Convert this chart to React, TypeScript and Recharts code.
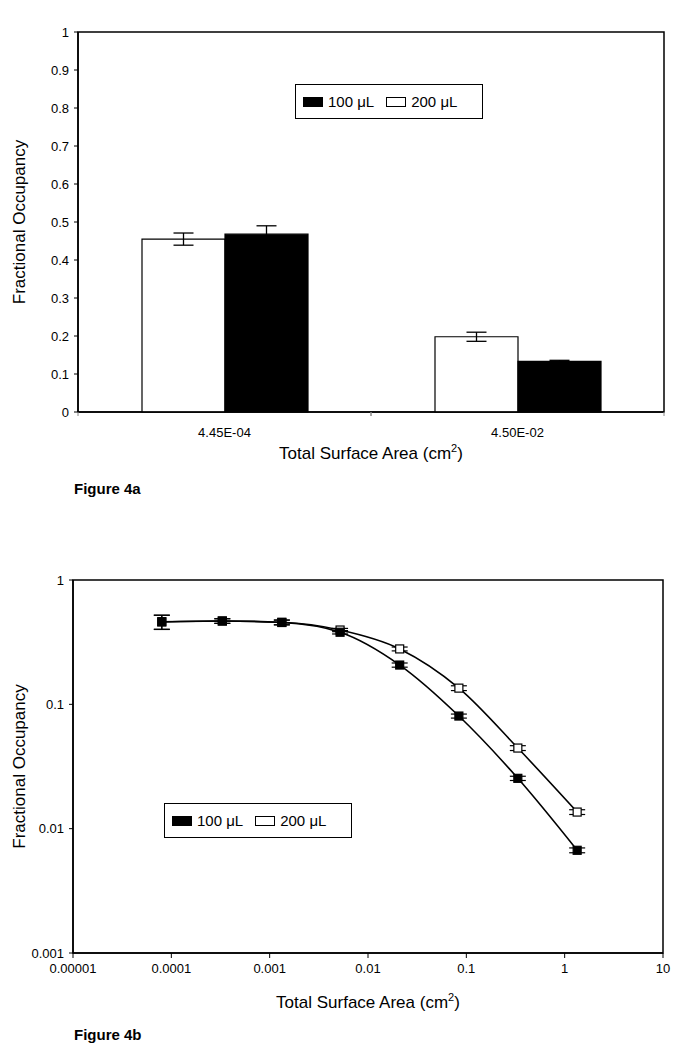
import React from 'react';
import { BarChart, Bar, XAxis, YAxis, ErrorBar, Legend, LineChart, Line, ReferenceArea } from 'recharts';

if (typeof document !== 'undefined') document.body.style.margin = '0';

const FONT = "'Liberation Sans', Arial, Helvetica, sans-serif";

// ---------- Figure 4a data ----------
const categories = ['4.45E-04', '4.50E-02'];
const occ200Bar = [0.455, 0.198];
const err200Bar = [0.016, 0.012];
const occ100Bar = [0.468, 0.133];
const err100Bar = [0.022, 0.003];
const barTicks = [0, 0.1, 0.2, 0.3, 0.4, 0.5, 0.6, 0.7, 0.8, 0.9, 1];
const barTickLabels = ['0', '0.1', '0.2', '0.3', '0.4', '0.5', '0.6', '0.7', '0.8', '0.9', '1'];

// ---------- Figure 4b data ----------
const surfaceArea = [8.0e-5, 3.3e-4, 1.33e-3, 5.2e-3, 2.1e-2, 8.4e-2, 0.334, 1.34];
const occ100 = [0.462, 0.468, 0.455, 0.38, 0.207, 0.0805, 0.0254, 0.0067];
const err100 = [0.06, 0.02, 0.02, 0.012, 0.008, 0.003, 0.001, 0.0003];
const occ200 = [0.46, 0.468, 0.457, 0.396, 0.279, 0.135, 0.0445, 0.0136];
const err200 = [0.06, 0.02, 0.02, 0.012, 0.01, 0.006, 0.002, 0.0006];
const xLogTicks = [1e-5, 1e-4, 1e-3, 1e-2, 0.1, 1, 10];
const xLogTickLabels = ['0.00001', '0.0001', '0.001', '0.01', '0.1', '1', '10'];
const yLogTicks = [0.001, 0.01, 0.1, 1];
const yLogTickLabels = ['0.001', '0.01', '0.1', '1'];

const seriesNames = ['100 \u03BCL', '200 \u03BCL'];
const seriesFills = ['#000', '#fff'];

const barData = categories.map((c, i) => ({
  cat: c,
  v200: occ200Bar[i],
  e200: err200Bar[i],
  v100: occ100Bar[i],
  e100: err100Bar[i],
}));

const lineData = surfaceArea.map((x, i) => ({
  x,
  o100: occ100[i],
  e100: err100[i],
  o200: occ200[i],
  e200: err200[i],
}));

const axisStroke = { stroke: '#000', strokeWidth: 1.5 };

const LegendBox = () => (
  <div
    style={{
      border: '1px solid #000',
      background: '#fff',
      width: 188,
      height: 35,
      boxSizing: 'border-box',
      display: 'flex',
      alignItems: 'center',
      paddingLeft: 7,
      fontFamily: FONT,
      fontSize: 15,
      color: '#000',
    }}
  >
    {seriesNames.map((n, i) => (
      <React.Fragment key={n}>
        <span
          style={{
            display: 'inline-block',
            width: 20,
            height: 10,
            boxSizing: 'border-box',
            background: seriesFills[i],
            border: '1px solid #000',
            marginRight: 5,
            marginLeft: i === 0 ? 0 : 12,
          }}
        />
        <span>{n}</span>
      </React.Fragment>
    ))}
  </div>
);

const xTitle = (dy: number) => (props: any) => {
  const vb = props && props.viewBox;
  if (!vb) return null;
  const cx = vb.x + vb.width / 2;
  return (
    <text x={cx} y={vb.y + dy} textAnchor="middle" fontSize={17} fontFamily={FONT} fill="#000">
      Total Surface Area (cm
      <tspan dy={-7} fontSize={11}>2</tspan>
      <tspan dy={7}>)</tspan>
    </text>
  );
};

const yTitle = (props: any) => {
  const vb = props && props.viewBox;
  if (!vb) return null;
  const cy = vb.y + vb.height / 2;
  const cx = 19;
  return (
    <text
      x={cx}
      y={cy}
      transform={`rotate(-90, ${cx}, ${cy})`}
      textAnchor="middle"
      dominantBaseline="central"
      fontSize={17}
      fontFamily={FONT}
      fill="#000"
    >
      Fractional Occupancy
    </text>
  );
};

const CatTick = (props: any) => {
  const { x, y, payload } = props;
  const off = payload && typeof payload.offset === 'number' ? payload.offset : 0;
  return (
    <g>
      {off > 0 && <line x1={x - off} x2={x - off} y1={y} y2={y + 4} stroke="#888" strokeWidth={1} />}
      {off > 0 && <line x1={x + off} x2={x + off} y1={y} y2={y + 4} stroke="#888" strokeWidth={1} />}
      <text x={x} y={y + 25} textAnchor="middle" fontSize={13} fontFamily={FONT} fill="#000">
        {payload.value}
      </text>
    </g>
  );
};

const squareDot = (fill: string) => (p: any) => {
  const { cx, cy, index } = p;
  if (cx == null || cy == null) return <g key={index} />;
  return <rect key={index} x={cx - 4} y={cy - 4} width={8} height={8} fill={fill} stroke="#000" strokeWidth={1.2} />;
};

const tickStyle = { fontSize: 13, fill: '#000', fontFamily: FONT };

export default function App() {
  return (
    <div style={{ position: 'relative', width: 686, height: 1050, background: '#fff', fontFamily: FONT }}>
      <div style={{ position: 'absolute', left: 0, top: 0 }}>
        <BarChart
          width={686}
          height={470}
          data={barData}
          margin={{ top: 32, right: 22, left: 0, bottom: 0 }}
          barGap={0}
          barSize={83}
        >
          <XAxis
            dataKey="cat"
            height={58}
            tickLine={false}
            tickSize={0}
            tickMargin={0}
            axisLine={axisStroke}
            tick={CatTick}
            interval={0}
            label={xTitle(47)}
          />
          <YAxis
            domain={[0, 1]}
            ticks={barTicks}
            width={78}
            tickSize={4}
            tickMargin={5}
            tick={tickStyle}
            tickLine={{ stroke: '#000' }}
            axisLine={axisStroke}
            tickFormatter={(v: number) => barTickLabels[barTicks.indexOf(v)] ?? String(v)}
            interval={0}
            label={yTitle}
          />
          <Bar dataKey="v200" name={seriesNames[1]} fill="#fff" stroke="#000" strokeWidth={1.2} isAnimationActive={false}>
            <ErrorBar dataKey="e200" width={10} stroke="#000" strokeWidth={1.3} />
          </Bar>
          <Bar dataKey="v100" name={seriesNames[0]} fill="#000" stroke="#000" strokeWidth={1.2} isAnimationActive={false}>
            <ErrorBar dataKey="e100" width={10} stroke="#000" strokeWidth={1.3} />
          </Bar>
          <ReferenceArea y1={0} y2={1} fill="none" fillOpacity={0} stroke="#000" strokeWidth={1.5} ifOverflow="visible" />
          <Legend
            verticalAlign="middle"
            align="center"
            layout="horizontal"
            content={() => <LegendBox />}
            wrapperStyle={{ left: 295, top: 84, width: 188, height: 35 }}
          />
        </BarChart>
      </div>

      <div style={{ position: 'absolute', left: 74, top: 480, fontSize: 15, fontWeight: 'bold', color: '#000' }}>
        Figure 4a
      </div>

      <div style={{ position: 'absolute', left: 0, top: 500 }}>
        <LineChart width={686} height={520} data={lineData} margin={{ top: 80, right: 23, left: 0, bottom: 0 }}>
          <XAxis
            dataKey="x"
            type="number"
            scale="log"
            domain={[1e-5, 10]}
            ticks={xLogTicks}
            allowDataOverflow
            height={67}
            tickSize={5}
            tickMargin={6}
            tick={tickStyle}
            tickLine={{ stroke: '#000' }}
            axisLine={axisStroke}
            interval={0}
            tickFormatter={(v: number) => xLogTickLabels[xLogTicks.indexOf(v)] ?? String(v)}
            label={xTitle(55)}
          />
          <YAxis
            type="number"
            scale="log"
            domain={[0.001, 1]}
            ticks={yLogTicks}
            allowDataOverflow
            width={73}
            tickSize={4}
            tickMargin={5}
            tick={tickStyle}
            tickLine={{ stroke: '#000' }}
            axisLine={axisStroke}
            interval={0}
            tickFormatter={(v: number) => yLogTickLabels[yLogTicks.indexOf(v)] ?? String(v)}
            label={yTitle}
          />
          <ReferenceArea y1={0.001} y2={1} fill="none" fillOpacity={0} stroke="#000" strokeWidth={1.5} ifOverflow="visible" />
          <Line
            dataKey="o200"
            name={seriesNames[1]}
            type="monotone"
            stroke="#000"
            strokeWidth={1.6}
            dot={squareDot('#fff')}
            isAnimationActive={false}
          >
            <ErrorBar dataKey="e200" width={8} stroke="#000" strokeWidth={1.2} />
          </Line>
          <Line
            dataKey="o100"
            name={seriesNames[0]}
            type="monotone"
            stroke="#000"
            strokeWidth={1.6}
            dot={squareDot('#000')}
            isAnimationActive={false}
          >
            <ErrorBar dataKey="e100" width={8} stroke="#000" strokeWidth={1.2} />
          </Line>
          <Legend
            verticalAlign="middle"
            align="center"
            layout="horizontal"
            content={() => <LegendBox />}
            wrapperStyle={{ left: 164, top: 303, width: 188, height: 35 }}
          />
        </LineChart>
      </div>

      <div style={{ position: 'absolute', left: 74, top: 1026, fontSize: 15, fontWeight: 'bold', color: '#000' }}>
        Figure 4b
      </div>
    </div>
  );
}
